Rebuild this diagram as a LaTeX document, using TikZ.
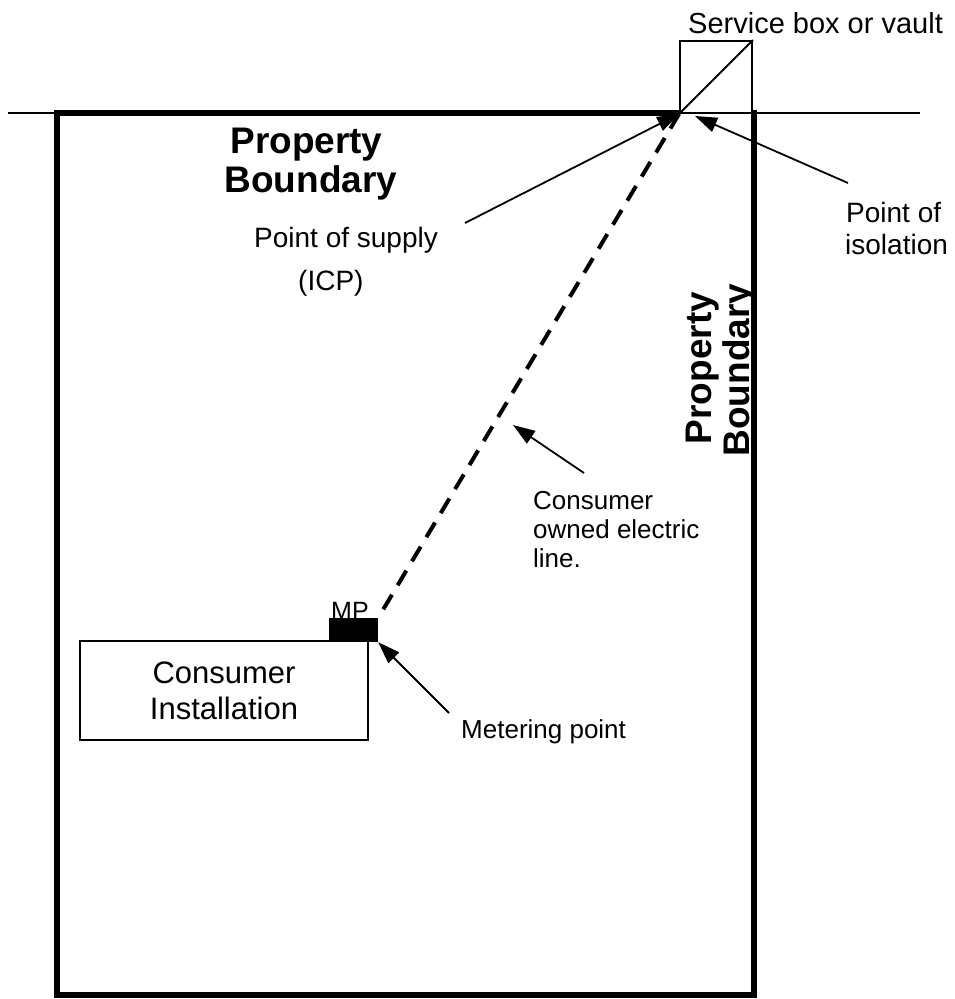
\documentclass[tikz,border=0pt]{standalone}
\usepackage{fontspec}
\setmainfont{Liberation Sans}
\usetikzlibrary{arrows.meta}
\begin{document}
\begin{tikzpicture}[x=1pt,y=-1pt,
  txt/.style={inner sep=0pt, anchor=base west},
  fs/.style={font=\fontsize{#1}{#1}\selectfont},
  thinline/.style={line width=1.8pt},
  frameline/.style={line width=6pt, line join=miter},
  pointer/.style={line width=1.8pt, -{Triangle[length=22pt,width=15pt]}},
  cableline/.style={line width=4pt, dash pattern=on 17pt off 11pt}]
\useasboundingbox[fill=white] (0,0) rectangle (954,999);

% boundary lines
\coordinate (gl) at (8,113);
\coordinate (gr) at (920,113);
\draw[thinline] (gl) -- (gr);
\coordinate (c1) at (680,113);
\coordinate (c2) at (57,113);
\coordinate (c3) at (57,995);
\coordinate (c4) at (754,995);
\coordinate (c5) at (754,110);
\draw[frameline] (c1) -- (c2) -- (c3) -- (c4) -- (c5);

% service box
\node[draw, thinline, minimum width=72pt, minimum height=72pt, inner sep=0pt] (sb) at (716,77) {};
\draw[thinline] (sb.south west) -- (sb.north east);
\node[txt, fs=29] (sbt) at (688,33) {Service box or vault};

% property boundary labels
\node[inner sep=0pt, anchor=base, fs=37, font=\bfseries\fontsize{37}{37}\selectfont] (pb1) at (306.5,153) {Property};
\node[inner sep=0pt, anchor=base, font=\bfseries\fontsize{37}{37}\selectfont] (pb2) at (311,192) {Boundary};
\node[inner sep=0pt, anchor=base, rotate=90, font=\bfseries\fontsize{37}{37}\selectfont] (pb3) at (711,368) {Property};
\node[inner sep=0pt, anchor=base, rotate=90, font=\bfseries\fontsize{37}{37}\selectfont] (pb4) at (749,370) {Boundary};

% consumer installation and metering point
\node[draw, thinline, minimum width=288pt, minimum height=99pt, inner sep=0pt,
      align=center, font=\fontsize{31}{36}\selectfont] (ci) at (224,690.5) {Consumer\\Installation};
\node[fill=black, minimum width=49pt, minimum height=24pt, inner sep=0pt] (mp) at (353.5,630) {};
\node[txt, fs=25] (mpt) at (331,619) {MP};

% consumer owned line
\draw[cableline] (sb.south west) -- (mp.north east);

% labels
\node[txt, fs=28] (pos1) at (254,247) {Point of supply};
\node[txt, fs=28] (pos2) at (298,290) {(ICP)};
\node[txt, fs=28] (poi1) at (846,222) {Point of};
\node[txt, fs=28] (poi2) at (845,254) {isolation};
\node[txt, fs=26] (col1) at (533,509) {Consumer};
\node[txt, fs=26] (col2) at (533,538) {owned electric};
\node[txt, fs=26] (col3) at (533,567) {line.};
\node[txt, fs=26] (mpl) at (461,738) {Metering point};

% pointers
\coordinate (a1) at (465,223);
\draw[pointer] (a1) -- (sb.south west);
\coordinate (a2) at (848,183);
\coordinate (a2t) at (695,116);
\draw[pointer] (a2) -- (a2t);
\coordinate (a3) at (584,473);
\coordinate (a3t) at (513,425);
\draw[pointer] (a3) -- (a3t);
\coordinate (a4) at (449,713);
\draw[pointer] (a4) -- (mp.south east);
\end{tikzpicture}
\end{document}
